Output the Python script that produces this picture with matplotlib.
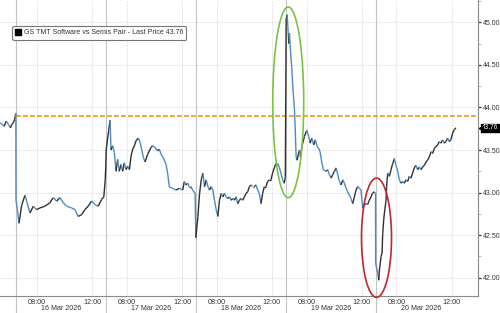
import numpy as np
import matplotlib
matplotlib.use("Agg")
import matplotlib.pyplot as plt
from matplotlib.collections import LineCollection
from matplotlib.patches import Ellipse
from matplotlib.lines import Line2D
import matplotlib.transforms as mtransforms

plt.rcParams['font.family'] = ['Liberation Sans', 'DejaVu Sans']

# ---------------- data ----------------
SESSION_HOURS = 6.5          # 06:30 - 13:00 session, hours since open
day_names = ['13 Mar 2026', '16 Mar 2026', '17 Mar 2026', '18 Mar 2026',
             '19 Mar 2026', '20 Mar 2026']

day13_h = [5.35, 5.5, 5.65, 5.8, 5.95, 6.1, 6.2, 6.3, 6.4, 6.49]
day13_v = [43.82, 43.80, 43.78, 43.84, 43.80, 43.76, 43.80, 43.82, 43.86, 43.93]

day16_h = [0.0, 0.1, 0.22, 0.41, 0.65, 0.77, 1.01, 1.25, 1.49, 1.73, 2.09, 2.45,
           2.69, 2.94, 3.18, 3.42, 3.66, 4.02, 4.26, 4.5, 4.74, 4.98, 5.22, 5.47,
           5.7, 5.94, 6.19, 6.35, 6.45, 6.49]
day16_v = [42.91, 42.80, 42.64, 42.85, 42.97, 42.90, 42.76, 42.84, 42.80, 42.82,
           42.84, 42.88, 42.94, 42.90, 42.94, 42.88, 42.84, 42.82, 42.80, 42.72,
           42.74, 42.80, 42.84, 42.90, 42.86, 42.84, 42.92, 42.95, 43.15, 43.30]

day17_h = [0.02, 0.2, 0.3, 0.37, 0.49, 0.61, 0.73, 0.85, 0.97, 1.09, 1.21, 1.33,
           1.46, 1.57, 1.7, 1.82, 1.94, 2.06, 2.18, 2.35, 2.47, 2.58, 2.71, 2.83,
           3.02, 3.26, 3.38, 3.55, 3.74, 3.86, 3.99, 4.15, 4.35, 4.46, 4.58, 4.82,
           5.07, 5.31, 5.55, 5.67, 5.79, 5.91, 6.03, 6.15, 6.27, 6.45]
day17_v = [43.50, 43.73, 43.85, 43.50, 43.55, 43.47, 43.25, 43.39, 43.25, 43.33,
           43.25, 43.35, 43.27, 43.31, 43.27, 43.43, 43.51, 43.55, 43.61, 43.64,
           43.59, 43.51, 43.41, 43.36, 43.45, 43.53, 43.55, 43.53, 43.49, 43.51,
           43.45, 43.41, 43.33, 43.23, 43.07, 43.05, 43.03, 43.05, 43.03, 43.13,
           43.09, 43.11, 43.07, 43.07, 43.03, 42.99]

day18_h = [0.0, 0.15, 0.27, 0.39, 0.51, 0.63, 0.75, 0.87, 0.99, 1.11, 1.23, 1.35,
           1.47, 1.59, 1.71, 1.83, 1.95, 2.07, 2.19, 2.31, 2.43, 2.55, 2.67, 2.79,
           2.91, 3.03, 3.15, 3.27, 3.39, 3.51, 3.63, 3.75, 3.87, 3.99, 4.11, 4.23,
           4.35, 4.47, 4.59, 4.71, 4.83, 4.95, 5.07, 5.19, 5.31, 5.43, 5.55, 5.67,
           5.79, 5.91, 6.03, 6.15, 6.27, 6.39, 6.47]
day18_v = [42.47, 42.72, 42.99, 43.15, 43.23, 43.07, 43.15, 43.07, 43.03, 43.07,
           43.03, 42.91, 42.80, 42.72, 42.91, 42.99, 42.95, 42.99, 42.95, 42.93,
           42.95, 42.91, 42.93, 42.91, 42.95, 42.87, 42.91, 42.93, 42.91, 42.95,
           42.99, 43.01, 43.07, 43.09, 43.07, 43.07, 43.09, 43.03, 42.99, 42.87,
           42.99, 43.07, 43.07, 43.13, 43.15, 43.15, 43.23, 43.29, 43.34, 43.34,
           43.30, 43.23, 43.15, 43.11, 43.19]

day19_h = [0.03, 0.1, 0.15, 0.22, 0.27, 0.34, 0.43, 0.51, 0.58, 0.63, 0.68, 0.75,
           0.82, 0.92, 0.99, 1.06, 1.16, 1.23, 1.35, 1.52, 1.66, 1.76, 1.88, 2.02,
           2.14, 2.27, 2.38, 2.48, 2.6, 2.72, 2.92, 3.03, 3.15, 3.28, 3.39, 3.52,
           3.64, 3.76, 3.88, 4.0, 4.12, 4.24, 4.36, 4.48, 4.6, 4.72, 4.84, 4.96,
           5.08, 5.2, 5.32, 5.44, 5.56, 5.68, 5.8, 5.92, 6.04, 6.16, 6.27, 6.4, 6.49]
day19_v = [45.04, 45.09, 44.95, 44.75, 44.87, 44.67, 44.48, 44.24, 44.09, 43.97,
           43.77, 43.42, 43.38, 43.46, 43.50, 43.42, 43.54, 43.58, 43.66, 43.73,
           43.66, 43.58, 43.64, 43.56, 43.62, 43.54, 43.52, 43.48, 43.36, 43.27,
           43.25, 43.27, 43.21, 43.17, 43.21, 43.25, 43.29, 43.21, 43.13, 43.09,
           43.15, 43.11, 43.05, 43.01, 42.97, 42.93, 42.87, 42.95, 43.03, 43.07,
           43.05, 43.03, 42.82, 42.86, 42.87, 42.86, 42.91, 42.95, 42.99, 43.01,
           42.99]

day20_h = [0.0, 0.15, 0.22, 0.27, 0.39, 0.46, 0.51, 0.58, 0.63, 0.75, 0.79, 0.87,
           0.99, 1.11, 1.23, 1.35, 1.47, 1.59, 1.71, 1.83, 1.95, 2.07, 2.19, 2.31,
           2.43, 2.55, 2.67, 2.79, 2.91, 3.03, 3.16, 3.28, 3.39, 3.52, 3.64, 3.75,
           3.88, 4.0, 4.12, 4.24, 4.36, 4.48, 4.6, 4.72, 4.84, 4.96, 5.08, 5.2,
           5.32, 5.44, 5.56, 5.68, 5.8]
day20_v = [42.17, 42.05, 41.97, 42.09, 42.25, 42.29, 42.52, 42.68, 42.76, 42.91,
           43.07, 43.23, 43.19, 43.27, 43.34, 43.40, 43.32, 43.25, 43.15, 43.11,
           43.13, 43.11, 43.15, 43.13, 43.19, 43.17, 43.23, 43.29, 43.32, 43.27,
           43.30, 43.27, 43.30, 43.32, 43.36, 43.38, 43.42, 43.48, 43.46, 43.52,
           43.54, 43.56, 43.60, 43.58, 43.62, 43.58, 43.60, 43.64, 43.60, 43.62,
           43.70, 43.74, 43.76]

ref_level = 43.895          # orange dashed reference level
last_price = 43.76
series_label = 'GS TMT Software vs Semis Pair - Last Price 43.76'
time_ticks_h = [1.5, 5.5]   # 08:00 and 12:00 in hours since 06:30 open
time_tick_labels = ['08:00', '12:00']
yticks = [42.0, 42.5, 43.0, 43.5, 44.0, 44.5, 45.0]

# annotation ellipses (data coords: center x, center y, width, height)
green_ell = (26.18, 44.06, 2.24, 2.24)
red_ell = (32.56, 42.47, 2.17, 1.40)

# ---------------- build x ----------------
days_h = [day13_h, day16_h, day17_h, day18_h, day19_h, day20_h]
days_v = [day13_v, day16_v, day17_v, day18_v, day19_v, day20_v]
xs, ys = [], []
for i, (hh, vv) in enumerate(zip(days_h, days_v)):
    assert len(hh) == len(vv), (i, len(hh), len(vv))
    xs += [i * SESSION_HOURS + h for h in hh]
    ys += vv
xs = np.array(xs)
ys = np.array(ys)

# ---------------- figure ----------------
fig = plt.figure(figsize=(5, 3.13), dpi=100)
ax = fig.add_axes([0, 0.0553, 0.955, 0.9447])
xmin, xmax = 5.345, 39.86
ax.set_xlim(xmin, xmax)
ax.set_ylim(41.789, 45.262)

grid_kw = dict(color='#bdbdbd', lw=0.6, linestyle=(0, (1, 2.2)))
for yv in yticks:
    ax.axhline(yv, zorder=0, **grid_kw)
xt = []
for d in range(1, len(day_names)):
    for th in time_ticks_h:
        xt.append(d * SESSION_HOURS + th)
for xv in xt:
    ax.axvline(xv, zorder=0, **grid_kw)

# day separators
trans = mtransforms.blended_transform_factory(ax.transData, ax.transAxes)
for d in range(1, len(day_names)):
    ax.plot([d * SESSION_HOURS] * 2, [-0.07, 1.0], transform=trans,
            color='#c4c4c4', lw=0.8, clip_on=False, zorder=0.5)

# reference level
ax.plot([SESSION_HOURS, xmax], [ref_level, ref_level], color='#f2a531',
        lw=1.4, linestyle=(0, (2.5, 1.1)), zorder=2)

# price line coloured by direction
pts = np.column_stack([xs, ys]).reshape(-1, 1, 2)
segs = np.concatenate([pts[:-1], pts[1:]], axis=1)
cols = ['#4a8ac4' if ys[i + 1] < ys[i] else '#2f2f2f' for i in range(len(ys) - 1)]
lc = LineCollection(segs, colors=cols, linewidths=1.0, zorder=3)
ax.add_collection(lc)

# ellipses
ax.add_patch(Ellipse(green_ell[:2], green_ell[2], green_ell[3], fill=False,
                     ec='#7cc242', lw=1.2, zorder=4, clip_on=False))
ax.add_patch(Ellipse(red_ell[:2], red_ell[2], red_ell[3], fill=False,
                     ec='#c1272d', lw=1.2, zorder=4, clip_on=False))

# axes styling
for s in ['top', 'left']:
    ax.spines[s].set_visible(False)
ax.spines['right'].set_color('#8a8a8a')
ax.spines['bottom'].set_color('#8a8a8a')
ax.spines['right'].set_linewidth(0.8)
ax.spines['bottom'].set_linewidth(0.8)

ax.yaxis.tick_right()
ax.set_yticks(yticks)
ax.set_yticklabels([f'{v:.2f}' for v in yticks])
ax.set_yticks([v + 0.25 for v in yticks[:-1]] + [45.25], minor=True)
ax.tick_params(axis='y', which='major', length=2.5, width=0.9, color='#333333',
               labelsize=5, labelcolor='#333333', pad=1.2)
ax.tick_params(axis='y', which='minor', length=2, width=0.6, color='#aaaaaa')

ax.set_xticks(xt)
ax.set_xticklabels(time_tick_labels * (len(day_names) - 1))
ax.tick_params(axis='x', length=0, labelsize=5.2, labelcolor='#333333', pad=2.2)

for d in range(1, len(day_names)):
    mid = d * SESSION_HOURS + SESSION_HOURS / 2
    ax.text(mid, -0.045, day_names[d], transform=trans, ha='center', va='center',
            fontsize=5.1, color='#333333')

# last price tag: square box plus a small pointer on its left
ytrans = mtransforms.blended_transform_factory(ax.transAxes, ax.transData)
ax.annotate(f'{last_price:.2f}', xy=(1.0, last_price), xycoords=ytrans,
            xytext=(3.0, 0), textcoords='offset points', ha='left', va='center',
            color='white', fontsize=4.7,
            bbox=dict(boxstyle='square,pad=0.12', fc='black', ec='black'),
            annotation_clip=False, zorder=6)
ptr = mtransforms.offset_copy(ytrans, fig=fig, x=2.2, y=0, units='points')
ax.plot([1.0], [last_price], marker='<', markersize=3.0, color='black',
        transform=ptr, clip_on=False, zorder=6)

# legend
handle = Line2D([0], [0], marker='s', linestyle='none', markerfacecolor='black',
                markeredgecolor='black', markersize=3.8)
leg = ax.legend([handle], [series_label], loc='upper left',
                bbox_to_anchor=(0.026, 0.911), fontsize=5, frameon=True,
                fancybox=True, edgecolor='#777777', framealpha=1,
                handlelength=0.8, handletextpad=0.4, borderpad=0.45,
                borderaxespad=0)
leg.get_frame().set_linewidth(0.8)
for t in leg.get_texts():
    t.set_color('#333333')

fig.savefig('out.png', dpi=100)
